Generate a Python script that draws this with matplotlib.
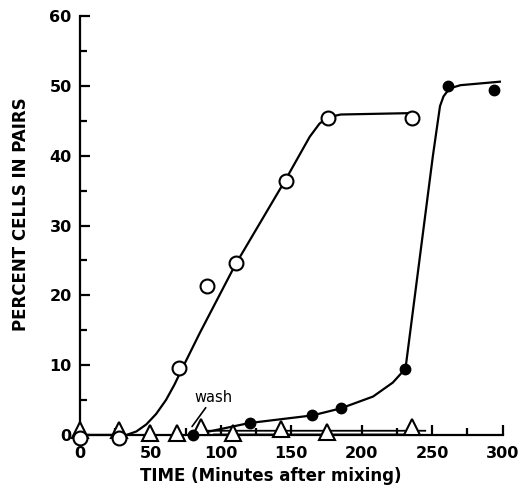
import matplotlib
matplotlib.use("Agg")
import matplotlib.pyplot as plt
from matplotlib.ticker import MultipleLocator

# Data (minutes after mixing, percent cells in pairs)
open_t = [0, 28, 70.5, 90, 110.6, 146, 176, 235.5]
open_y = [-0.45, -0.45, 9.6, 21.4, 24.6, 36.4, 45.4, 45.4]

filled_t = [80, 120.6, 165, 185, 231, 261, 293.6]
filled_y = [0, 1.7, 2.8, 3.8, 9.5, 50.0, 49.4]

tri_t = [0, 28, 49.6, 69, 86, 108.6, 142.6, 175, 235.5]
tri_y = [0.7, 0.7, 0.3, 0.3, 1.1, 0.3, 0.9, 0.4, 1.2]

open_curve_t = [0, 33, 40, 47, 54, 61, 67, 72, 85, 110, 146, 163, 170, 176, 185, 235]
open_curve_y = [0, 0, 0.5, 1.5, 3.0, 5.0, 7.2, 9.3, 14.6, 24.3, 36.6, 42.7, 44.6, 45.5, 45.9, 46.1]

filled_curve_t = [80, 120, 165, 185, 208, 222, 231, 250.4, 255.5, 258, 261, 265, 270, 298]
filled_curve_y = [0, 1.7, 2.8, 3.8, 5.5, 7.5, 9.5, 39.9, 47.1, 48.5, 49.3, 49.8, 50.1, 50.6]

tri_curve_t = [0, 80, 90, 245]
tri_curve_y = [0, 0, 0.6, 0.6]

gray_t = [95, 230]
gray_y = [0.2, 0.2]

fig = plt.figure(figsize=(5.31, 4.87), dpi=100)
ax = fig.add_axes([0.1507, 0.0854, 0.796, 0.8816])

ax.plot(gray_t, gray_y, color="#8a8a8a", lw=1.3, zorder=1)
ax.plot(tri_curve_t, tri_curve_y, color="black", lw=1.3, zorder=2)
ax.plot(open_curve_t, open_curve_y, color="black", lw=1.6, zorder=2)
ax.plot(filled_curve_t, filled_curve_y, color="black", lw=1.6, zorder=2)

ax.plot(tri_t, tri_y, ls="none", marker="^", ms=11, mfc="white", mec="black",
        mew=1.5, zorder=4, clip_on=False)
ax.plot(open_t, open_y, ls="none", marker="o", ms=10, mfc="white", mec="black",
        mew=1.5, zorder=4, clip_on=False)
ax.plot(filled_t, filled_y, ls="none", marker="o", ms=7.5, mfc="black", mec="black",
        zorder=5, clip_on=False)

# wash annotation
ax.annotate("wash", xy=(79.5, 1.2), xytext=(81, 4.3), fontsize=10.5,
            family="DejaVu Sans", ha="left", va="bottom",
            arrowprops=dict(arrowstyle="-", color="black", lw=1.2,
                            shrinkA=0, shrinkB=0))

ax.set_xlim(0, 300)
ax.set_ylim(-1.5, 60)
for side in ("top", "right"):
    ax.spines[side].set_visible(False)
ax.spines["bottom"].set_position(("data", 0))
ax.spines["left"].set_bounds(0, 60)
ax.spines["left"].set_linewidth(1.6)
ax.spines["bottom"].set_linewidth(1.6)

ax.xaxis.set_major_locator(MultipleLocator(50))
ax.xaxis.set_minor_locator(MultipleLocator(25))
ax.yaxis.set_major_locator(MultipleLocator(10))
ax.yaxis.set_minor_locator(MultipleLocator(5))
ax.tick_params(which="both", direction="in", width=1.6)
ax.tick_params(which="major", length=7)
ax.tick_params(which="minor", length=5)
ax.tick_params(axis="x", which="major", pad=8)
ax.tick_params(axis="y", which="major", pad=6)
for lab in ax.get_xticklabels() + ax.get_yticklabels():
    lab.set_fontsize(11.5)
    lab.set_fontweight("bold")
    lab.set_family("DejaVu Sans")

fig.text(0.04, 0.56, "PERCENT CELLS IN PAIRS", rotation=90, ha="center", va="center",
         fontsize=12, fontweight="heavy", family="DejaVu Sans")
fig.text(0.51, 0.023, "TIME (Minutes after mixing)", ha="center", va="center",
         fontsize=12, fontweight="heavy", family="DejaVu Sans")

fig.savefig("out.png", dpi=100)
